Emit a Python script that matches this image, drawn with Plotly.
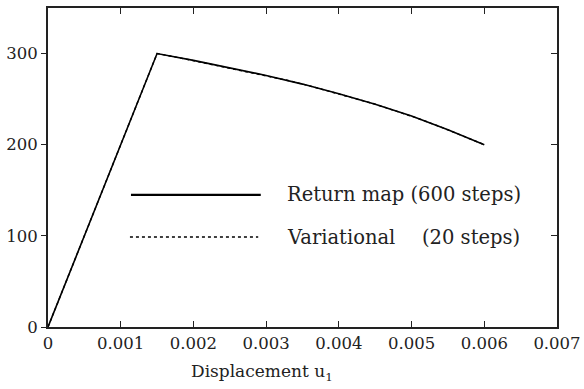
import plotly.graph_objects as go

# Return map (600 steps)
rm_x = [0.0, 0.0015, 0.002, 0.0025, 0.003, 0.0035, 0.004, 0.0045, 0.005, 0.0055, 0.006]
rm_y = [0, 300, 292.5, 284.5, 276, 266.5, 256, 244.5, 231.5, 216.5, 200]

# Variational (20 steps)
var_x = [0.0, 0.0003, 0.0006, 0.0009, 0.0012, 0.0015, 0.0018, 0.0021, 0.0024, 0.0027,
         0.003, 0.0033, 0.0036, 0.0039, 0.0042, 0.0045, 0.0048, 0.0051, 0.0054, 0.0057, 0.006]
var_y = [0, 60, 120, 180, 240, 300, 295.5, 290.5, 286, 281,
         276, 270.5, 264.5, 258, 251.5, 244.5, 236.5, 228.5, 219.5, 210, 200]

x_ticks = [0, 0.001, 0.002, 0.003, 0.004, 0.005, 0.006, 0.007]
x_ticklabels = ["0", "0.001", "0.002", "0.003", "0.004", "0.005", "0.006", "0.007"]
y_ticks = [0, 100, 200, 300]

FONT = "DejaVu Serif"
INK = "#222"

fig = go.Figure()
fig.add_trace(go.Scatter(x=rm_x, y=rm_y, mode="lines",
                         line=dict(color="black", width=1.6), showlegend=False,
                         hoverinfo="skip"))
fig.add_trace(go.Scatter(x=var_x, y=var_y, mode="lines", yaxis="y2",
                         line=dict(color="black", width=1.4, dash="dot"), showlegend=False,
                         hoverinfo="skip"))

fig.update_layout(
    width=584, height=389,
    margin=dict(l=48, r=27, t=8, b=62),
    paper_bgcolor="white", plot_bgcolor="white",
    font=dict(family=FONT, size=16, color=INK),
    xaxis=dict(range=[0, 0.007], tickvals=x_ticks, ticktext=x_ticklabels,
               ticks="inside", ticklen=6, tickwidth=1.2, tickcolor=INK,
               showline=True, linewidth=2, linecolor=INK, mirror="ticks",
               showgrid=False, zeroline=False, automargin=False,
               ticklabeloverflow="allow",
               tickfont=dict(family=FONT, size=16.5)),
    yaxis=dict(range=[0, 350], tickvals=y_ticks,
               ticks="outside", ticklen=5, tickwidth=1.2, tickcolor=INK,
               showline=True, linewidth=2, linecolor=INK, mirror=True,
               showgrid=False, zeroline=False, automargin=False,
               ticklabeloverflow="allow",
               tickfont=dict(family=FONT, size=16.5)),
    yaxis2=dict(range=[0, 350], tickvals=y_ticks, overlaying="y", side="right",
                ticks="inside", ticklen=6, tickwidth=1.2, tickcolor=INK,
                showticklabels=False, showline=False, showgrid=False, zeroline=False,
                automargin=False),
)

# x-axis title (sits left of centre in the reference)
fig.add_annotation(xref="paper", yref="paper", x=0.42, y=-0.144,
                   text="Displacement u<sub>1</sub>", showarrow=False,
                   xanchor="center", yanchor="middle", font=dict(family=FONT, size=17))

# legend drawn inside the plot
fig.add_shape(type="line", xref="paper", yref="paper", x0=0.163, x1=0.418, y0=0.414, y1=0.414,
              line=dict(color="black", width=2.2))
fig.add_shape(type="line", xref="paper", yref="paper", x0=0.161, x1=0.413, y0=0.282, y1=0.282,
              line=dict(color="black", width=1.4, dash="dot"))
fig.add_annotation(xref="paper", yref="paper", x=0.466, y=0.414, text="Return map (600 steps)",
                   showarrow=False, xanchor="left", yanchor="middle",
                   font=dict(family=FONT, size=19.5))
fig.add_annotation(xref="paper", yref="paper", x=0.466, y=0.282, text="Variational",
                   showarrow=False, xanchor="left", yanchor="middle",
                   font=dict(family=FONT, size=19.5))
fig.add_annotation(xref="paper", yref="paper", x=0.731, y=0.282, text="(20 steps)",
                   showarrow=False, xanchor="left", yanchor="middle",
                   font=dict(family=FONT, size=19.5))

fig.write_html("out.html", config={"displayModeBar": False},
               post_script="document.body.style.margin='0';document.body.style.overflow='hidden';")
